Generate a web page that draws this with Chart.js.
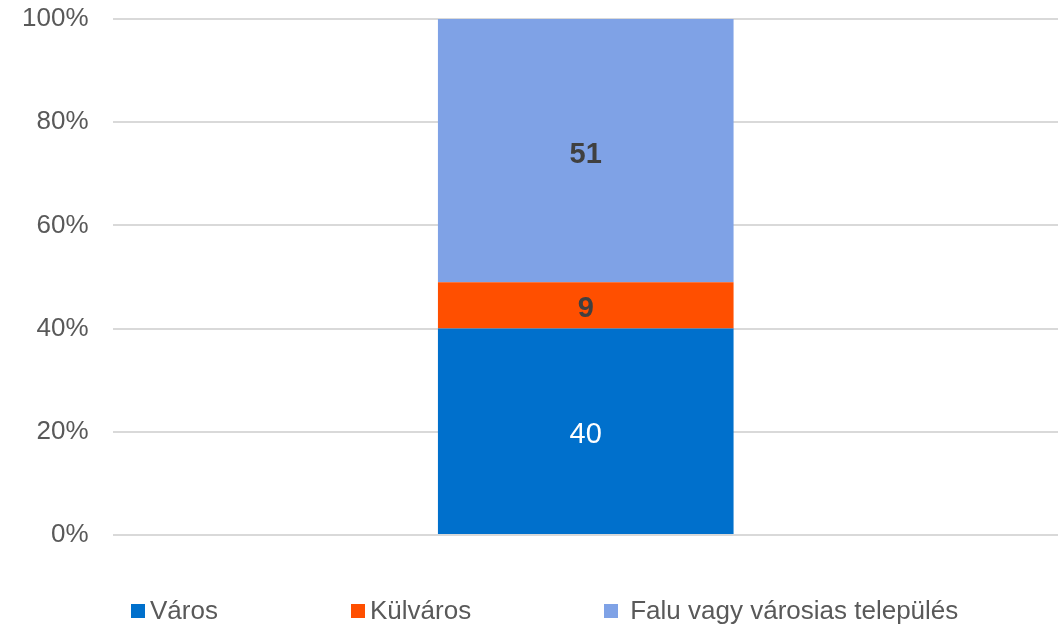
<!DOCTYPE html>
<html>
<head>
<meta charset="utf-8">
<script src="https://cdn.jsdelivr.net/npm/chart.js@4/dist/chart.umd.min.js"></script>
<style>
  html, body { margin: 0; padding: 0; background: #fff; }
  #wrap { position: relative; width: 1064px; height: 624px; }
  #legend { position: absolute; left: 0; top: 596px; width: 1064px; height: 28px;
            font-family: "Liberation Sans", Arial, sans-serif; font-size: 26px; color: #595959; }
  .item { position: absolute; top: 0; white-space: nowrap; line-height: 28px; }
  .box { display: inline-block; width: 14px; height: 14px; margin-right: 5px; vertical-align: 1px; }
</style>
</head>
<body>
<div id="wrap">
  <canvas id="chart" width="1064" height="624"></canvas>
  <div id="legend"></div>
</div>
<script>
const categories = [""];
const seriesNames = ["Város", "Külváros", "Falu vagy városias település"];
const varos = [40];
const kulvaros = [9];
const falu = [51];
const tickLabels = ["0%", "20%", "40%", "60%", "80%", "100%"];
const colors = ["#0070CC", "#FF4F00", "#7FA2E6"];
const labelColors = ["#ffffff", "#404040", "#404040"];
const labelBold = [false, true, true];
const legendLeft = [131, 351, 604];

const font = '"Liberation Sans", Arial, sans-serif';

// writes the value in the middle of each bar segment
const barLabels = {
  id: 'barLabels',
  afterDatasetsDraw(chart) {
    const ctx = chart.ctx;
    chart.data.datasets.forEach((ds, i) => {
      const meta = chart.getDatasetMeta(i);
      meta.data.forEach((bar, j) => {
        const mid = (bar.y + bar.base) / 2 + 4;
        ctx.save();
        ctx.font = (labelBold[i] ? 'bold ' : '') + '29px ' + font;
        ctx.fillStyle = labelColors[i];
        ctx.textAlign = 'center';
        ctx.textBaseline = 'middle';
        ctx.fillText(ds.data[j], bar.x, mid);
        ctx.restore();
      });
    });
  }
};

new Chart(document.getElementById('chart'), {
  type: 'bar',
  data: {
    labels: categories,
    datasets: [
      { label: seriesNames[0], data: varos, backgroundColor: colors[0] },
      { label: seriesNames[1], data: kulvaros, backgroundColor: colors[1] },
      { label: seriesNames[2], data: falu, backgroundColor: colors[2] }
    ]
  },
  options: {
    responsive: false,
    animation: false,
    layout: { padding: { left: -3, right: 6, top: 19, bottom: 81 } },
    datasets: { bar: { categoryPercentage: 1, barPercentage: 0.313 } },
    plugins: { legend: { display: false }, tooltip: { enabled: false } },
    scales: {
      x: {
        stacked: true,
        grid: { display: false },
        border: { display: false },
        ticks: { display: false }
      },
      y: {
        stacked: true,
        min: 0,
        max: 100,
        border: { display: false },
        grid: { color: '#d9d9d9', lineWidth: 2, drawTicks: false },
        ticks: {
          stepSize: 20,
          padding: 25,
          color: '#595959',
          font: { family: font, size: 26 },
          callback: (v) => tickLabels[v / 20]
        },
        afterFit(scale) {
          // tick padding should not push the plot down
          scale.paddingTop = 0;
          scale.paddingBottom = 0;
        }
      }
    }
  },
  plugins: [barLabels]
});

const legend = document.getElementById('legend');
seriesNames.forEach((name, i) => {
  const el = document.createElement('div');
  el.className = 'item';
  el.style.left = legendLeft[i] + 'px';
  el.innerHTML = '<span class="box" style="background:' + colors[i] + '"></span>' + (i === 2 ? '&nbsp;' : '') + name;
  legend.appendChild(el);
});
</script>
</body>
</html>
